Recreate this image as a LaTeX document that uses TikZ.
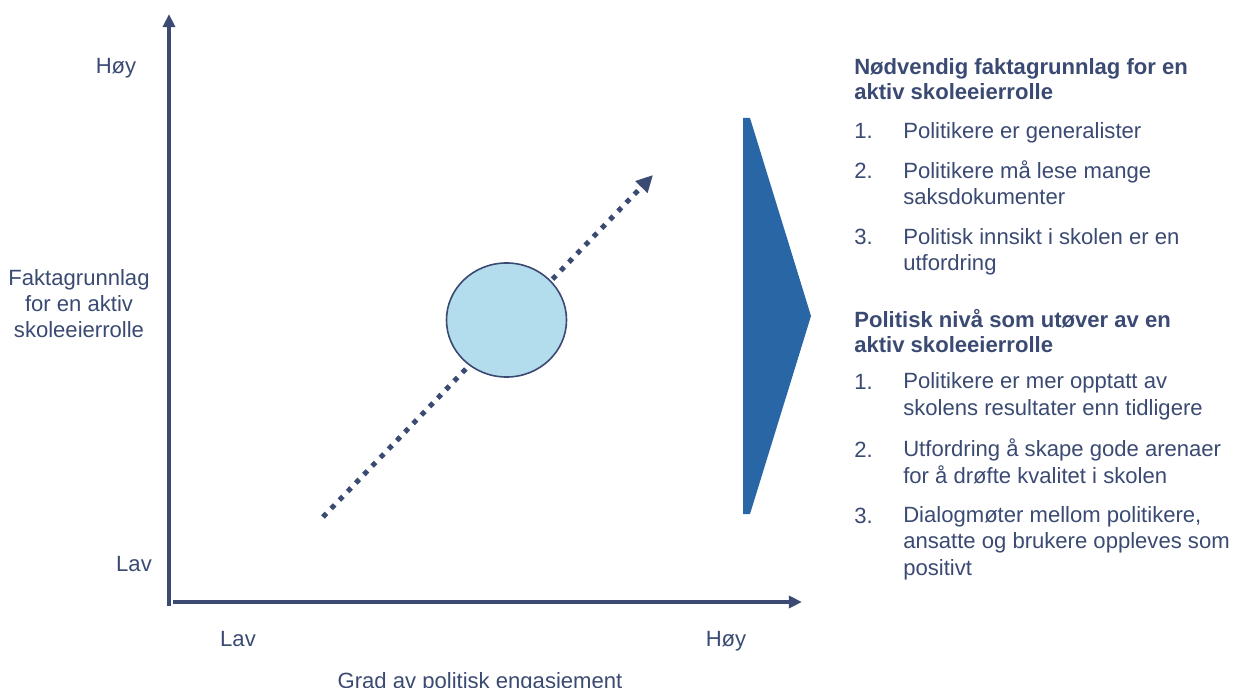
\documentclass[tikz,border=0pt]{standalone}
\usepackage{fontspec}
\setmainfont{Liberation Sans}
\usetikzlibrary{arrows.meta,shapes.geometric}
\definecolor{axisnavy}{HTML}{3A4A72}
\definecolor{chevronblue}{HTML}{2866A6}
\definecolor{bubblefill}{HTML}{B3DCEC}
\tikzset{
  txt/.style={text=axisnavy, font=\fontsize{15.7}{18.6}\selectfont, inner sep=0pt},
  listtxt/.style={txt, anchor=base west, align=left},
  headtxt/.style={listtxt, font=\fontsize{15.7}{18.4}\selectfont\bfseries},
  axisline/.style={line width=0.1cm, draw=axisnavy, -{Triangle[length=0.33cm,width=0.3cm]}},
  trendline/.style={line width=0.125cm, draw=axisnavy, dash pattern=on 0.125cm off 0.17cm,
    -{Triangle[length=0.42cm,width=0.4cm]}},
}

\begin{document}
\begin{tikzpicture}[x=0.025cm, y=-0.025cm]
		%%%%% START %%%%%
		\useasboundingbox (0,0) rectangle (1235,688);
		
		% axes
		\coordinate (ybot) at (169,606);
		\coordinate (ytop) at (169,14);
		\coordinate (xleft) at (173,602);
		\coordinate (xright) at (802,602);
		\draw[axisline] (ybot) -- (ytop);
		\draw[axisline] (xleft) -- (xright);
		
		% multi-line nodes sit on the baseline of their last line
		\node[txt, anchor=base] (yhigh) at (116,74) {Høy};
		\node[txt, anchor=base] (ylow) at (134,571) {Lav};
		\node[txt, anchor=base, align=center] (ytitle) at (79,338) {Faktagrunnlag\\for en aktiv\\skoleeierrolle};
		\node[txt, anchor=base] (xlow) at (238,646) {Lav};
		\node[txt, anchor=base] (xhigh) at (726,646) {Høy};
		\node[txt, anchor=base] (xtitle) at (480,688) {Grad av politisk engasjement};
		
		% trend and bubble
		\coordinate (trendstart) at (323,517);
		\coordinate (trendend) at (653,175);
		\draw[trendline] (trendstart) -- (trendend);
		\node[ellipse, draw=axisnavy, line width=0.04cm, fill=bubblefill,
		  minimum width=3cm, minimum height=2.85cm, inner sep=0pt] (bubble) at (506.5,320) {};
		
		% chevron
		\fill[chevronblue] (743,118) -- (750,118) -- (811,316) -- (750,514) -- (743,514) -- cycle;
		
		% first list
		\node[headtxt] (headA) at (854,100) {Nødvendig faktagrunnlag for en\\aktiv skoleeierrolle};
		\node[listtxt] (numA1) at (854,139) {1.};
		\node[listtxt] (itemA1) at (903,139) {Politikere er generalister};
		\node[listtxt] (numA2) at (854,179) {2.};
		\node[listtxt] (itemA2) at (903,205) {Politikere må lese mange\\saksdokumenter};
		\node[listtxt] (numA3) at (854,245) {3.};
		\node[listtxt] (itemA3) at (903,271) {Politisk innsikt i skolen er en\\utfordring};
		
		% second list
		\node[headtxt] (headB) at (854,353) {Politisk nivå som utøver av en\\aktiv skoleeierrolle};
		\node[listtxt] (numB1) at (854,389) {1.};
		\node[listtxt] (itemB1) at (903,415) {Politikere er mer opptatt av\\skolens resultater enn tidligere};
		\node[listtxt] (numB2) at (854,457) {2.};
		\node[listtxt] (itemB2) at (903,483) {Utfordring å skape gode arenaer\\for å drøfte kvalitet i skolen};
		\node[listtxt] (numB3) at (854,523) {3.};
		\node[listtxt] (itemB3) at (903,575) {Dialogmøter mellom politikere,\\ansatte og brukere oppleves som\\positivt};
		
		%%%%% END %%%%%
\end{tikzpicture}
\end{document}
